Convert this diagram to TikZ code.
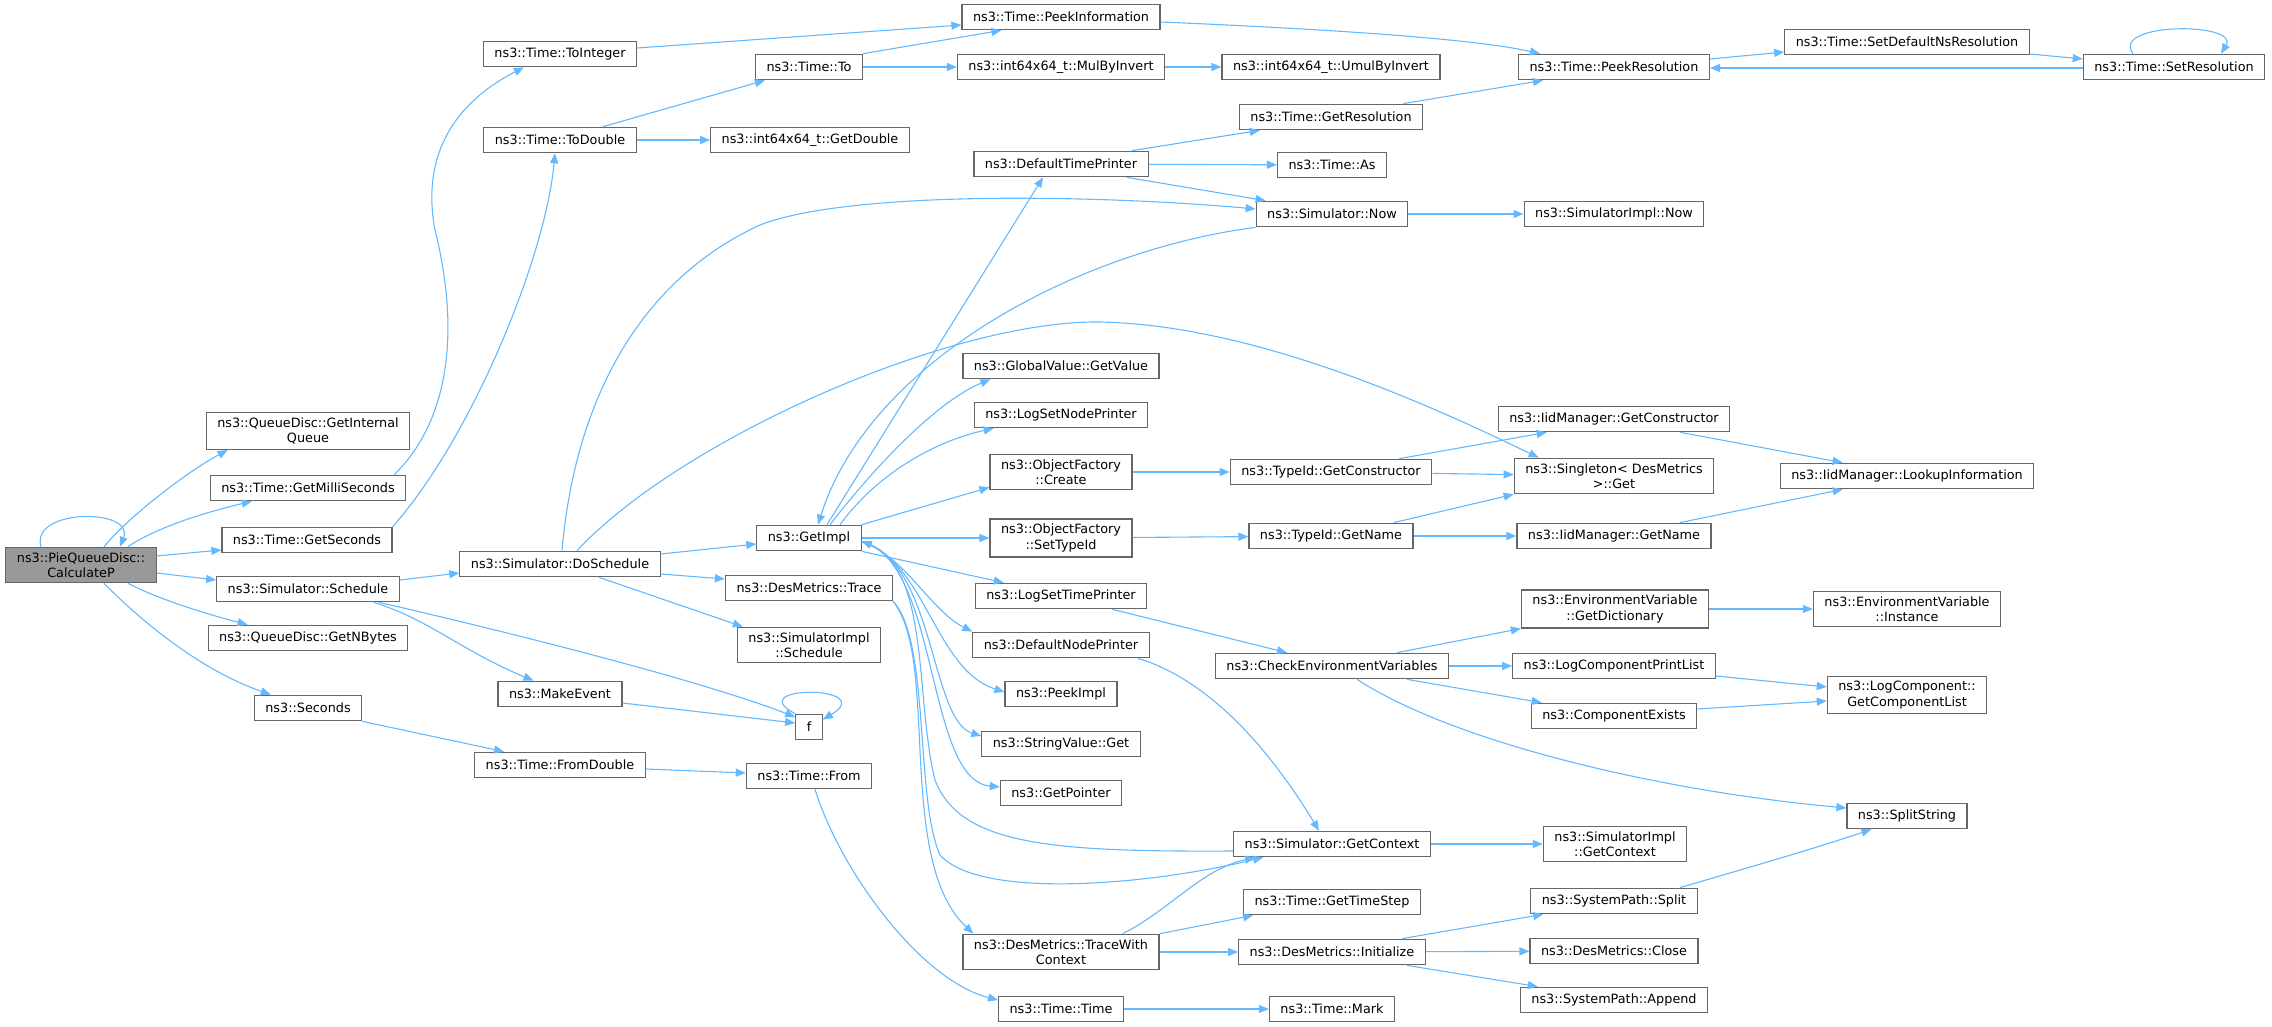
\documentclass[tikz,border=0pt]{standalone}
\usepackage{fontspec}
\setmainfont{DejaVu Sans}
\usetikzlibrary{arrows.meta}
\definecolor{edgeblue}{HTML}{63B8FF}
\definecolor{boxgray}{HTML}{666666}
\definecolor{rootfill}{HTML}{999999}
\tikzset{
  fn/.style={draw=boxgray, line width=1.2pt, fill=white, rectangle, inner xsep=11pt, inner ysep=5pt,
    minimum height=25.5pt, align=center, font=\fontsize{12.8}{15.5}\selectfont},
  root/.style={fn, fill=rootfill},
  call/.style={draw=edgeblue, line width=1.1pt, -{Triangle[length=10pt,width=8pt]}}
}

\begin{document}
\begin{tikzpicture}[x=1pt, y=-1pt]
    \useasboundingbox (0,0) rectangle (2272,1027);

    \node[root] (calcp) at (81,565) {ns3::PieQueueDisc::\\CalculateP};

    \node[fn] (getiq) at (308,431) {ns3::QueueDisc::GetInternal\\Queue};
    \node[fn] (getms) at (308,488) {ns3::Time::GetMilliSeconds};
    \node[fn] (getsec) at (307,540) {ns3::Time::GetSeconds};
    \node[fn] (sched) at (308,589) {ns3::Simulator::Schedule};
    \node[fn] (nbytes) at (308,638) {ns3::QueueDisc::GetNBytes};
    \node[fn] (seconds) at (308,708) {ns3::Seconds};

    \node[fn] (toint) at (560,54) {ns3::Time::ToInteger};
    \node[fn] (todbl) at (560,140) {ns3::Time::ToDouble};
    \node[fn] (dosched) at (560,564) {ns3::Simulator::DoSchedule};
    \node[fn] (mkevent) at (560,694) {ns3::MakeEvent};
    \node[fn] (fromdbl) at (560,765) {ns3::Time::FromDouble};

    \node[fn] (timeto) at (809,67) {ns3::Time::To};
    \node[fn] (getdbl) at (810,140) {ns3::int64x64\_t::GetDouble};
    \node[fn] (getimpl) at (809,538) {ns3::GetImpl};
    \node[fn] (dmtrace) at (809,588) {ns3::DesMetrics::Trace};
    \node[fn] (implsched) at (809,645) {ns3::SimulatorImpl\\::Schedule};
    \node[fn] (f) at (809,727) {f};
    \node[fn] (from) at (809,776) {ns3::Time::From};

    \node[fn] (peekinfo) at (1061,17) {ns3::Time::PeekInformation};
    \node[fn] (mulinv) at (1061,67) {ns3::int64x64\_t::MulByInvert};
    \node[fn] (deftp) at (1061,164) {ns3::DefaultTimePrinter};
    \node[fn] (getval) at (1061,366) {ns3::GlobalValue::GetValue};
    \node[fn] (lognp) at (1061,415) {ns3::LogSetNodePrinter};
    \node[fn] (ofcreate) at (1061,472) {ns3::ObjectFactory\\::Create};
    \node[fn] (ofsettid) at (1061,538) {ns3::ObjectFactory\\::SetTypeId};
    \node[fn] (logtp) at (1061,596) {ns3::LogSetTimePrinter};
    \node[fn] (defnp) at (1061,645) {ns3::DefaultNodePrinter};
    \node[fn] (peekimpl) at (1061,694) {ns3::PeekImpl};
    \node[fn] (strget) at (1061,744) {ns3::StringValue::Get};
    \node[fn] (getptr) at (1061,793) {ns3::GetPointer};
    \node[fn] (dmtwc) at (1061,952) {ns3::DesMetrics::TraceWith\\Context};
    \node[fn] (timetime) at (1061,1009) {ns3::Time::Time};

    \node[fn] (umulinv) at (1331,67) {ns3::int64x64\_t::UmulByInvert};
    \node[fn] (getres) at (1331,117) {ns3::Time::GetResolution};
    \node[fn] (timeas) at (1332,165) {ns3::Time::As};
    \node[fn] (simnow) at (1332,214) {ns3::Simulator::Now};
    \node[fn] (tidctor) at (1331,472) {ns3::TypeId::GetConstructor};
    \node[fn] (tidname) at (1331,536) {ns3::TypeId::GetName};
    \node[fn] (checkenv) at (1332,666) {ns3::CheckEnvironmentVariables};
    \node[fn] (simctx) at (1332,844) {ns3::Simulator::GetContext};
    \node[fn] (timestep) at (1332,902) {ns3::Time::GetTimeStep};
    \node[fn] (dminit) at (1332,952) {ns3::DesMetrics::Initialize};
    \node[fn] (timemark) at (1332,1009) {ns3::Time::Mark};

    \node[fn] (peekres) at (1614,67) {ns3::Time::PeekResolution};
    \node[fn] (implnow) at (1614,214) {ns3::SimulatorImpl::Now};
    \node[fn] (iidctor) at (1614,419) {ns3::IidManager::GetConstructor};
    \node[fn] (singget) at (1614,476) {ns3::Singleton< DesMetrics\\>::Get};
    \node[fn] (iidname) at (1614,536) {ns3::IidManager::GetName};
    \node[fn] (getdict) at (1615,609) {ns3::EnvironmentVariable\\::GetDictionary};
    \node[fn] (logcpl) at (1614,666) {ns3::LogComponentPrintList};
    \node[fn] (compex) at (1614,716) {ns3::ComponentExists};
    \node[fn] (implctx) at (1615,844) {ns3::SimulatorImpl\\::GetContext};
    \node[fn] (spsplit) at (1614,901) {ns3::SystemPath::Split};
    \node[fn] (dmclose) at (1614,951) {ns3::DesMetrics::Close};
    \node[fn] (spappend) at (1614,1000) {ns3::SystemPath::Append};

    \node[fn] (setdefres) at (1907,42) {ns3::Time::SetDefaultNsResolution};
    \node[fn] (lookup) at (1907,476) {ns3::IidManager::LookupInformation};
    \node[fn] (envinst) at (1907,609) {ns3::EnvironmentVariable\\::Instance};
    \node[fn] (getcl) at (1907,695) {ns3::LogComponent::\\GetComponentList};
    \node[fn] (split) at (1907,816) {ns3::SplitString};

    \node[fn] (setres) at (2174,67) {ns3::Time::SetResolution};

    % calls out of CalculateP
    \draw[call] ([xshift=-40pt]calcp.north) .. controls (30,508) and (135,508) .. ([xshift=39pt]calcp.north);
    \draw[call] ([xshift=23pt]calcp.north) .. controls (130,515) and (190,470) .. ([xshift=22pt]getiq.south west);
    \draw[call] ([xshift=47pt]calcp.north) .. controls (160,525) and (215,510) .. ([xshift=42pt]getms.south west);
    \draw[call] ([yshift=9pt]calcp.east) -- ([yshift=-10pt]getsec.west);
    \draw[call] ([yshift=-8pt]calcp.east) -- ([yshift=9pt]sched.west);
    \draw[call] ([xshift=47pt]calcp.south) .. controls (160,600) and (210,615) .. ([xshift=40pt]nbytes.north west);
    \draw[call] ([xshift=23pt]calcp.south) .. controls (140,620) and (200,670) .. ([xshift=17pt]seconds.north west);

    \draw[call] ([xshift=-12pt]getms.north east) .. controls (450,420) and (460,330) .. (435,230)
        .. controls (420,150) and (460,100) .. ([xshift=41pt]toint.south west);
    \draw[call] (getsec.north east) .. controls (470,440) and (545,260) .. ([xshift=-5pt]todbl.south);
    \draw[call] ([yshift=6pt]toint.east) -- ([yshift=-8pt]peekinfo.west);
    \draw[call] ([xshift=43pt]todbl.north) -- ([xshift=10pt]timeto.south west);
    \draw[call] (todbl) -- (getdbl);
    \draw[call] (timeto.north east) -- ([xshift=40pt]peekinfo.south west);
    \draw[call] (timeto) -- (mulinv);
    \draw[call] (mulinv) -- (umulinv);
    \draw[call] ([yshift=-5pt]peekinfo.east) .. controls (1350,30) and (1480,40) .. ([xshift=22pt]peekres.north west);
    \draw[call] ([xshift=-20pt]getres.north east) -- ([xshift=25pt]peekres.south west);
    \draw[call] ([yshift=8pt]peekres.east) -- ([yshift=-10pt]setdefres.west);
    \draw[call] ([yshift=-12pt]setdefres.east) -- ([yshift=8pt]setres.west);
    \draw[call] ([yshift=-1pt]setres.west) -- ([yshift=-1pt]peekres.east);
    \draw[call] ([xshift=-41pt]setres.north) .. controls (2110,22) and (2240,22) .. ([xshift=47pt]setres.north);

    % scheduling
    \draw[call] ([yshift=9pt]sched.east) -- ([yshift=-9pt]dosched.west);
    \draw[call] ([xshift=-26pt]sched.south east) .. controls (430,620) and (460,650) .. ([xshift=36pt]mkevent.north west);
    \draw[call] ([xshift=-21pt]sched.south east) .. controls (500,630) and (700,680) .. ([yshift=10pt]f.west);
    \draw[call] ([yshift=-9pt]mkevent.east) -- ([yshift=4pt]f.west);
    \draw[call] (f.north west) .. controls (740,685) and (880,685) .. ([yshift=-6pt]f.north east);
    \draw[call] ([xshift=2pt]dosched.north) .. controls (575,400) and (640,280) .. (760,225)
        .. controls (850,190) and (1100,195) .. ([yshift=5pt]simnow.west);
    \draw[call] ([yshift=10pt]dosched.east) -- ([yshift=-6pt]getimpl.west);
    \draw[call] ([yshift=-10pt]dosched.east) -- ([yshift=9pt]dmtrace.west);
    \draw[call] ([xshift=39pt]dosched.south) -- ([xshift=6pt]implsched.north west);
    \draw[call] ([xshift=17pt]dosched.north) .. controls (680,440) and (950,320) .. (1100,322)
        .. controls (1250,325) and (1420,400) .. ([xshift=25pt]singget.north west);

    % simulator and printers
    \draw[call] (simnow) -- (implnow);
    \draw[call] (simnow.south west) .. controls (1080,250) and (870,360) .. ([xshift=9pt]getimpl.north);
    \draw[call] ([xshift=18pt]getimpl.north) -- ([xshift=-18pt]deftp.south);
    \draw[call] ([xshift=-17pt]deftp.north east) -- ([xshift=21pt]getres.south west);
    \draw[call] (deftp) -- (timeas);
    \draw[call] ([xshift=-22pt]deftp.south east) -- ([xshift=10pt]simnow.north west);

    % GetImpl
    \draw[call] ([xshift=21pt]getimpl.north) .. controls (880,460) and (940,400) .. ([xshift=28pt]getval.south west);
    \draw[call] ([xshift=31pt]getimpl.north) .. controls (880,470) and (940,440) .. ([xshift=20pt]lognp.south west);
    \draw[call] (getimpl.north east) -- ([yshift=3pt]ofcreate.south west);
    \draw[call] (getimpl) -- (ofsettid);
    \draw[call] (getimpl.south east) -- ([xshift=29pt]logtp.north west);
    \draw[call] ([yshift=-4pt]getimpl.east) .. controls (905,556) and (930,610) .. (defnp.north west);
    \draw[call] ([yshift=-4pt]getimpl.east) .. controls (925,560) and (935,670) .. ([yshift=2pt]peekimpl.west);
    \draw[call] ([yshift=-4pt]getimpl.east) .. controls (935,560) and (930,720) .. ([yshift=8pt]strget.west);
    \draw[call] ([yshift=-4pt]getimpl.east) .. controls (940,560) and (925,780) .. ([yshift=6pt]getptr.west);
    \draw[call] ([yshift=-7pt]simctx.west) .. controls (1050,852) and (960,845) .. (935,780)
        .. controls (915,700) and (930,570) .. ([yshift=-3pt]getimpl.east);

    % DesMetrics
    \draw[call] (dmtrace.south east) .. controls (930,640) and (915,800) .. (940,855)
        .. controls (980,900) and (1150,885) .. ([xshift=30pt]simctx.south west);
    \draw[call] (dmtrace.south east) .. controls (940,660) and (895,860) .. ([xshift=11pt]dmtwc.north west);
    \draw[call] ([xshift=-37pt]dmtwc.north east) .. controls (1170,910) and (1200,870) .. ([xshift=22pt]simctx.south west);
    \draw[call] (dmtwc.north east) -- ([xshift=10pt]timestep.south west);
    \draw[call] (dmtwc) -- (dminit);
    \draw[call] ([xshift=-24pt]dminit.north east) -- ([xshift=13pt]spsplit.south west);
    \draw[call] (dminit) -- (dmclose);
    \draw[call] ([xshift=-19pt]dminit.south east) -- ([xshift=18pt]spappend.north west);
    \draw[call] ([xshift=-18pt]spsplit.north east) .. controls (1740,870) and (1810,850) .. ([xshift=25pt]split.south west);

    % environment and logging
    \draw[call] ([xshift=-35pt]logtp.south east) -- ([xshift=-45pt]checkenv.north);
    \draw[call] ([xshift=65pt]checkenv.north) -- (getdict.south west);
    \draw[call] (checkenv) -- (logcpl);
    \draw[call] ([xshift=75pt]checkenv.south) -- ([xshift=11pt]compex.north west);
    \draw[call] ([xshift=25pt]checkenv.south) .. controls (1450,740) and (1650,790) .. ([yshift=8pt]split.west);
    \draw[call] (getdict) -- (envinst);
    \draw[call] ([yshift=-10pt]logcpl.east) -- ([yshift=8pt]getcl.west);
    \draw[call] ([yshift=7pt]compex.east) -- ([yshift=-6pt]getcl.west);
    \draw[call] ([xshift=-12pt]defnp.south east) .. controls (1210,680) and (1270,750) .. ([xshift=-13pt]simctx.north);
    \draw[call] (simctx) -- (implctx);

    % object factory and type ids
    \draw[call] (ofcreate) -- (tidctor);
    \draw[call] (ofsettid) -- (tidname);
    \draw[call] ([xshift=-33pt]tidctor.north east) -- ([xshift=49pt]iidctor.south west);
    \draw[call] (tidctor) -- (singget);
    \draw[call] ([xshift=-20pt]tidname.north east) -- (singget.south west);
    \draw[call] (tidname) -- (iidname);
    \draw[call] ([xshift=-50pt]iidctor.south east) -- ([xshift=63pt]lookup.north west);
    \draw[call] ([xshift=-32pt]iidname.north east) -- ([xshift=63pt]lookup.south west);

    % time conversion
    \draw[call] (seconds.south east) -- ([xshift=30pt]fromdbl.north west);
    \draw[call] ([yshift=-4pt]fromdbl.east) -- ([yshift=3pt]from.west);
    \draw[call] ([xshift=6pt]from.south) .. controls (840,870) and (920,980) .. ([yshift=9pt]timetime.west);
    \draw[call] (timetime) -- (timemark);
\end{tikzpicture}
\end{document}
